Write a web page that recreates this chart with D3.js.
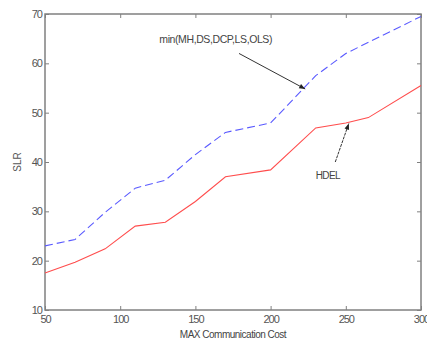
<!DOCTYPE html>
<html><head><meta charset="utf-8">
<script src="https://cdn.jsdelivr.net/npm/d3@7"></script>
<style>body{margin:0;background:#fff}svg{display:block}</style>
</head><body>
<svg id="c" width="427" height="343"></svg>
<script>
const xTicks = [50, 100, 150, 200, 250, 300];
const yTicks = [10, 20, 30, 40, 50, 60, 70];
const hdelX = [50, 70, 90, 110, 130, 150, 170, 200, 230, 250, 265, 300];
const hdelY = [17.5, 19.7, 22.4, 27.0, 27.8, 32.0, 37.0, 38.4, 46.9, 47.9, 49.0, 55.5];
const minX = [50, 70, 90, 110, 130, 150, 170, 200, 230, 250, 300];
const minY = [23.0, 24.3, 29.8, 34.7, 36.3, 41.5, 46.0, 47.9, 57.5, 62.0, 69.5];
const labels = {x: "MAX Communication Cost", y: "SLR", a1: "min(MH,DS,DCP,LS,OLS)", a2: "HDEL"};

const svg = d3.select("#c");
const L = 45, R = 421, T = 14, B = 310;
const x = d3.scaleLinear().domain([50, 300]).range([L, R]);
const y = d3.scaleLinear().domain([10, 70]).range([B, T]);
const axisCol = "#808080", textCol = "#555";

const defs = svg.append("defs");
defs.append("marker").attr("id", "ah").attr("viewBox", "0 0 10 10").attr("refX", 10).attr("refY", 5)
  .attr("markerWidth", 7).attr("markerHeight", 6).attr("orient", "auto-start-reverse")
  .append("path").attr("d", "M0,1 L10,5 L0,9 z").attr("fill", "#222");

function styleAxis(g, noText) {
  g.select(".domain").remove();
  g.selectAll(".tick line").attr("stroke", axisCol).attr("stroke-width", 1);
  g.selectAll(".tick text").attr("fill", textCol).style("font-family", "Liberation Sans, Arial, sans-serif")
    .style("font-size", "11px").style("letter-spacing", "-1px");
  if (noText) g.selectAll(".tick text").remove();
}
svg.append("g").attr("transform", `translate(0,${B})`)
  .call(d3.axisBottom(x).tickValues(xTicks).tickSize(-4).tickPadding(5).tickFormat(d3.format("d")))
  .call(g => styleAxis(g));
svg.append("g").attr("transform", `translate(0,${T})`)
  .call(d3.axisTop(x).tickValues(xTicks).tickSize(-4)).call(g => styleAxis(g, true));
svg.append("g").attr("transform", `translate(${L},0)`)
  .call(d3.axisLeft(y).tickValues(yTicks).tickSize(-4).tickPadding(3).tickFormat(d3.format("d")))
  .call(g => styleAxis(g));
svg.append("g").attr("transform", `translate(${R},0)`)
  .call(d3.axisRight(y).tickValues(yTicks).tickSize(-4)).call(g => styleAxis(g, true));

svg.append("rect").attr("x", L).attr("y", T).attr("width", R - L).attr("height", B - T)
  .attr("fill", "none").attr("stroke", axisCol).attr("stroke-width", 1.5);

const line = d3.line().x(d => x(d[0])).y(d => y(d[1]));
svg.append("path").datum(minX.map((v, i) => [v, minY[i]])).attr("d", line)
  .attr("fill", "none").attr("stroke", "#5a5aff").attr("stroke-width", 1.1).attr("stroke-dasharray", "8,4");
svg.append("path").datum(hdelX.map((v, i) => [v, hdelY[i]])).attr("d", line)
  .attr("fill", "none").attr("stroke", "#ff4d4d").attr("stroke-width", 1.1);

const f = "Liberation Sans, Arial, sans-serif";
svg.append("text").attr("x", x(126)).attr("y", y(64.2)).attr("fill", "#444")
  .style("font-family", f).style("font-size", "10.5px").style("letter-spacing", "-0.4px").text(labels.a1);
svg.append("line").attr("x1", x(179)).attr("y1", y(62.0)).attr("x2", x(223)).attr("y2", y(54.8))
  .attr("stroke", "#333").attr("stroke-width", 1).attr("marker-end", "url(#ah)");
svg.append("text").attr("x", x(230)).attr("y", y(36.6)).attr("fill", "#444")
  .style("font-family", f).style("font-size", "10px").style("letter-spacing", "-0.6px").text(labels.a2);
svg.append("line").attr("x1", x(243)).attr("y1", y(40.0)).attr("x2", x(252)).attr("y2", y(47.8))
  .attr("stroke", "#333").attr("stroke-width", 1).attr("stroke-dasharray", "3,1").attr("marker-end", "url(#ah)");

svg.append("text").attr("x", 233).attr("y", 338).attr("text-anchor", "middle").attr("fill", "#444")
  .style("font-family", f).style("font-size", "10px").style("letter-spacing", "-0.5px").text(labels.x);
svg.append("text").attr("transform", "translate(21,162) rotate(-90)").attr("text-anchor", "middle").attr("fill", "#555")
  .style("font-family", f).style("font-size", "10px").text(labels.y);
</script>
</body></html>
